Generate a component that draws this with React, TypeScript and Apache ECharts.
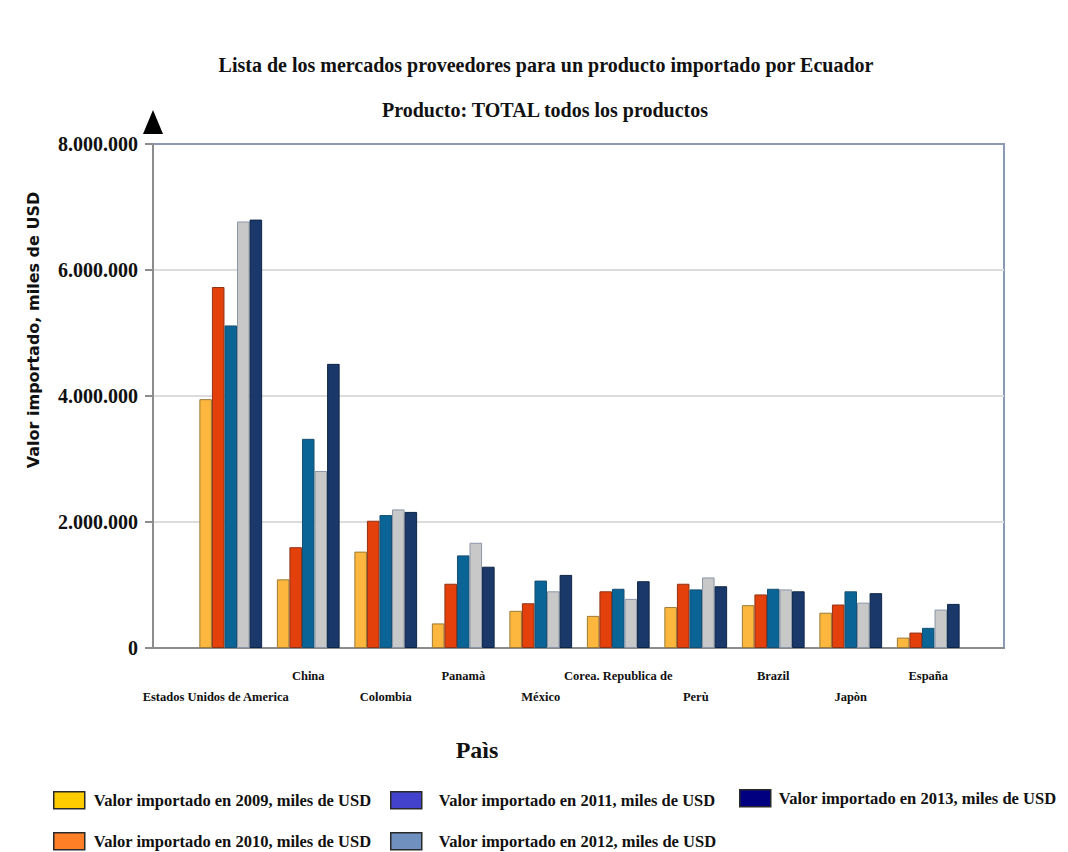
import React, { useEffect, useRef } from "react";
import * as echarts from "echarts";

const categories = [
  "Estados Unidos de America",
  "China",
  "Colombia",
  "Panamà",
  "México",
  "Corea. Republica de",
  "Perù",
  "Brazil",
  "Japòn",
  "España",
];

const seriesNames = [
  "Valor importado en 2009, miles de USD",
  "Valor importado en 2010, miles de USD",
  "Valor importado en 2011, miles de USD",
  "Valor importado en 2012, miles de USD",
  "Valor importado en 2013, miles de USD",
];

const v2009 = [3950000, 1090000, 1530000, 390000, 590000, 510000, 650000, 680000, 560000, 165000];
const v2010 = [5730000, 1600000, 2020000, 1020000, 710000, 900000, 1020000, 850000, 690000, 245000];
const v2011 = [5120000, 3320000, 2110000, 1470000, 1070000, 940000, 930000, 940000, 900000, 320000];
const v2012 = [6770000, 2810000, 2200000, 1670000, 900000, 780000, 1120000, 930000, 720000, 610000];
const v2013 = [6800000, 4510000, 2160000, 1290000, 1160000, 1060000, 980000, 900000, 870000, 700000];

const yTicks = [0, 2000000, 4000000, 6000000, 8000000];

const barColors = ["#FDB73E", "#E4400C", "#0A6596", "#C8C8C8", "#1A386A"];
const barBorders = ["#9C7A35", "#8E3215", "#174F72", "#8A96A8", "#0E2446"];
const legendColors = ["#FFCC00", "#FF7F27", "#4242CC", "#7090C0", "#000080"];

// legend placement (left, top, text padding) per series
const legendPos = [
  [53, 791, 4],
  [53, 832, 4],
  [390, 791, 12],
  [390, 832, 12],
  [739, 789, 3],
];

const SERIF = '"Liberation Serif", "Times New Roman", serif';

function fmt(v: number): string {
  return String(Math.round(v)).replace(/\B(?=(\d{3})+(?!\d))/g, ".");
}

export default function App() {
  const ref = useRef<HTMLDivElement>(null);
  useEffect(() => {
    document.body.style.margin = "0";
    const chart = echarts.init(ref.current!, null, { renderer: "svg" });
    const values = [v2009, v2010, v2011, v2012, v2013];
    const legends = seriesNames.map((name, i) => ({
      left: legendPos[i][0],
      top: legendPos[i][1],
      padding: 0,
      orient: "horizontal",
      itemWidth: 31,
      itemHeight: 17,
      selectedMode: false,
      data: [
        {
          name,
          icon: "rect",
          itemStyle: { color: legendColors[i], borderColor: "#2a2a2a", borderWidth: 1.5 },
        },
      ],
      textStyle: {
        fontFamily: SERIF,
        fontWeight: "bold",
        fontSize: 16.5,
        color: "#111",
        padding: [0, 0, 0, legendPos[i][2]],
      },
    }));
    chart.setOption({
      animation: false,
      backgroundColor: "#ffffff",
      title: [
        {
          text: "Lista de los mercados proveedores para un producto importado por Ecuador",
          left: 541,
          top: 50,
          textAlign: "center",
          textStyle: { fontFamily: SERIF, fontWeight: "bold", fontSize: 20, color: "#111" },
        },
        {
          text: "Producto: TOTAL todos los productos",
          left: 540,
          top: 95,
          textAlign: "center",
          textStyle: { fontFamily: SERIF, fontWeight: "bold", fontSize: 20, color: "#111" },
        },
      ],
      legend: legends,
      grid: [
        {
          left: 153,
          right: 64,
          top: 144,
          bottom: 204,
          show: true,
          borderColor: "#8A9AB5",
          borderWidth: 2,
          backgroundColor: "transparent",
        },
        { left: 192, right: 101, top: 144, bottom: 204 },
      ],
      xAxis: [
        {
          gridIndex: 0,
          type: "category",
          data: [""],
          axisLine: { show: true, lineStyle: { color: "#8c8c8c", width: 2 } },
          axisTick: { show: false },
          axisLabel: { show: false },
          splitLine: { show: false },
        },
        {
          gridIndex: 1,
          type: "category",
          data: categories,
          axisLine: { show: false },
          axisTick: { show: false },
          axisLabel: {
            interval: 0,
            margin: 21,
            fontFamily: SERIF,
            fontWeight: "bold",
            fontSize: 12.5,
            color: "#111",
            formatter: (v: string, i: number) =>
              i === 0 ? "{lo0|" + v + "}" : i % 2 === 0 ? "{lo|" + v + "}" : "{hi|" + v + "}",
            rich: {
              hi: { fontFamily: SERIF, fontWeight: "bold", fontSize: 12.5, color: "#111", padding: [0, 0, 0, 0] },
              lo: { fontFamily: SERIF, fontWeight: "bold", fontSize: 12.5, color: "#111", padding: [21, 0, 0, 0] },
              lo0: { fontFamily: SERIF, fontWeight: "bold", fontSize: 12.5, color: "#111", padding: [21, 30, 0, 0] },
            },
          },
        },
      ],
      yAxis: [
        {
          gridIndex: 0,
          type: "value",
          min: yTicks[0],
          max: yTicks[yTicks.length - 1],
          interval: yTicks[1] - yTicks[0],
          axisLine: { show: true, lineStyle: { color: "#8c8c8c", width: 2 } },
          axisTick: { show: true, length: 8, lineStyle: { color: "#8c8c8c", width: 2 } },
          axisLabel: {
            margin: 15,
            fontFamily: SERIF,
            fontWeight: "bold",
            fontSize: 20,
            color: "#111",
            formatter: (v: number) => fmt(v),
          },
          splitLine: {
            show: true,
            showMinLine: false,
            showMaxLine: false,
            lineStyle: { color: "#DCDCDC", width: 2 },
          },
        },
        {
          gridIndex: 1,
          type: "value",
          min: yTicks[0],
          max: yTicks[yTicks.length - 1],
          interval: yTicks[1] - yTicks[0],
          show: false,
          splitLine: { show: false },
        },
      ],
      graphic: [
        {
          type: "polygon",
          shape: { points: [[143, 134], [163, 134], [153, 110]] },
          style: { fill: "#000" },
          z: 100,
        },
        {
          type: "text",
          x: 33,
          y: 330,
          rotation: Math.PI / 2,
          style: {
            text: "Valor importado, miles de USD",
            fontFamily: '"DejaVu Sans", sans-serif',
            fontWeight: "bold",
            fontSize: 16,
            fill: "#111",
            textAlign: "center",
            textVerticalAlign: "middle",
          },
        },
        {
          type: "text",
          x: 477,
          y: 750,
          style: {
            text: "Paìs",
            fontFamily: SERIF,
            fontWeight: "bold",
            fontSize: 24,
            fill: "#111",
            textAlign: "center",
            textVerticalAlign: "middle",
          },
        },
      ],
      series: values.map((vals, i) => ({
        name: seriesNames[i],
        type: "bar",
        xAxisIndex: 1,
        yAxisIndex: 1,
        data: vals,
        barGap: "0%",
        barCategoryGap: "19%",
        itemStyle: { color: barColors[i], borderColor: barBorders[i], borderWidth: 1 },
      })),
    });
    return () => chart.dispose();
  }, []);
  return <div ref={ref} style={{ width: 1068, height: 852 }} />;
}
